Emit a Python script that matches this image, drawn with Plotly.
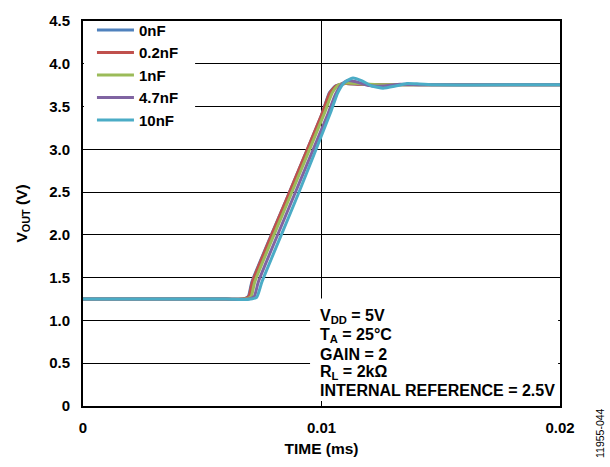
import plotly.graph_objects as go

# ---- data (time in ms, output in V) ----
series_names = ["0nF", "0.2nF", "1nF", "4.7nF", "10nF"]
series_colors = ["#4F81BD", "#C0504D", "#9BBB59", "#8064A2", "#4BACC6"]

t_0nF = [0, 0.0060, 0.0067, 0.00693, 0.00708, 0.0086, 0.0100, 0.01033, 0.01058, 0.0110, 0.0116, 0.0125, 0.02]
v_0nF = [1.25, 1.25, 1.25, 1.28, 1.45, 2.46, 3.40, 3.66, 3.74, 3.77, 3.76, 3.755, 3.755]

t_02nF = [0, 0.0060, 0.0067, 0.00695, 0.0071, 0.0086, 0.0100, 0.01035, 0.0106, 0.0110, 0.0116, 0.0125, 0.02]
v_02nF = [1.25, 1.25, 1.25, 1.28, 1.45, 2.46, 3.40, 3.66, 3.74, 3.77, 3.76, 3.755, 3.755]

t_1nF = [0, 0.0060, 0.0068, 0.00705, 0.0072, 0.0087, 0.01012, 0.01045, 0.0107, 0.0111, 0.0117, 0.0125, 0.02]
v_1nF = [1.25, 1.25, 1.25, 1.28, 1.45, 2.46, 3.42, 3.66, 3.75, 3.775, 3.765, 3.755, 3.755]

t_47nF = [0, 0.0060, 0.0069, 0.00718, 0.00735, 0.00885, 0.01025, 0.01058, 0.01085, 0.0111, 0.01145,
          0.0120, 0.0126, 0.0133, 0.0142, 0.02]
v_47nF = [1.25, 1.25, 1.25, 1.28, 1.45, 2.46, 3.40, 3.64, 3.76, 3.805, 3.79,
          3.745, 3.74, 3.76, 3.755, 3.755]

t_10nF = [0, 0.0060, 0.0069, 0.00728, 0.0075, 0.0090, 0.01038, 0.01068, 0.01095, 0.01132, 0.0117,
          0.0121, 0.01258, 0.0131, 0.01358, 0.0141, 0.0148, 0.02]
v_10nF = [1.25, 1.25, 1.245, 1.27, 1.45, 2.46, 3.43, 3.66, 3.78, 3.835, 3.80,
          3.74, 3.715, 3.74, 3.77, 3.765, 3.755, 3.755]

series_t = [t_0nF, t_02nF, t_1nF, t_47nF, t_10nF]
series_v = [v_0nF, v_02nF, v_1nF, v_47nF, v_10nF]

x_tickvals = [0, 0.01, 0.02]
x_ticktext = ["0", "0.01", "0.02"]
y_tickvals = [0, 0.5, 1.0, 1.5, 2.0, 2.5, 3.0, 3.5, 4.0, 4.5]
y_ticktext = ["0", "0.5", "1.0", "1.5", "2.0", "2.5", "3.0", "3.5", "4.0", "4.5"]

condition_lines = ["V<sub>DD</sub> = 5V", "T<sub>A</sub> = 25°C", "GAIN = 2",
                   "R<sub>L</sub> = 2kΩ", "INTERNAL REFERENCE = 2.5V"]
condition_y = [1.046, 0.823, 0.606, 0.394, 0.183]

FONT = "Liberation Sans, Arial, sans-serif"

fig = go.Figure()
for name, color, t, v in zip(series_names, series_colors, series_t, series_v):
    fig.add_trace(go.Scatter(
        x=t, y=v, name=name, mode="lines",
        line=dict(color=color, width=3, shape="spline", smoothing=0.5),
    ))

# white boxes behind legend and conditions text (hide gridlines, stay below traces)
fig.add_shape(type="rect", xref="x", yref="y", x0=0.00952, x1=0.01992, y0=0.057, y1=1.257,
              fillcolor="white", line=dict(width=0), layer="between")
fig.add_shape(type="rect", xref="x", yref="y", x0=0.00004, x1=0.0047, y0=3.15, y1=4.49,
              fillcolor="white", line=dict(width=0), layer="between")

for txt, yv in zip(condition_lines, condition_y):
    fig.add_annotation(
        x=0.00986, y=yv, xref="x", yref="y", xanchor="left", yanchor="middle",
        text=txt, showarrow=False, align="left",
        font=dict(family=FONT, size=16, color="black", weight="bold"),
    )

fig.add_annotation(
    x=1.084, y=-0.07, xref="paper", yref="paper", xanchor="center", yanchor="middle",
    text="11955-044", showarrow=False, textangle=-90,
    font=dict(family=FONT, size=10.5, color="black"),
)

fig.update_layout(
    width=610, height=467,
    margin=dict(l=83, r=50, t=14, b=59),
    paper_bgcolor="white", plot_bgcolor="white",
    font=dict(family=FONT, color="black"),
    showlegend=True,
    legend=dict(
        x=0.002, y=1.019, xanchor="left", yanchor="top",
        bgcolor="rgba(0,0,0,0)", borderwidth=0,
        font=dict(family=FONT, size=15, color="black", weight="bold"),
        indentation=8, itemwidth=37,
    ),
    xaxis=dict(
        range=[0, 0.02], tickvals=x_tickvals, ticktext=x_ticktext,
        showgrid=True, gridcolor="black", gridwidth=1,
        showline=True, linecolor="black", linewidth=2, mirror=True,
        zeroline=False, ticks="", ticklabelstandoff=7,
        tickfont=dict(family=FONT, size=15, color="black", weight="bold"),
        title=dict(text="TIME (ms)", standoff=8,
                   font=dict(family=FONT, size=15.5, color="black", weight="bold")),
    ),
    yaxis=dict(
        range=[0, 4.5], tickvals=y_tickvals, ticktext=y_ticktext,
        showgrid=True, gridcolor="black", gridwidth=1,
        showline=True, linecolor="black", linewidth=2, mirror=True,
        zeroline=False, ticks="", ticklabelstandoff=8, ticklabeloverflow="allow",
        tickfont=dict(family=FONT, size=15, color="black", weight="bold"),
        title=dict(text="V<sub>OUT</sub> (V)", standoff=18,
                   font=dict(family=FONT, size=15.5, color="black", weight="bold")),
    ),
)

fig.write_html("out.html", config={"displayModeBar": False},
               post_script="document.body.style.margin='0';")
